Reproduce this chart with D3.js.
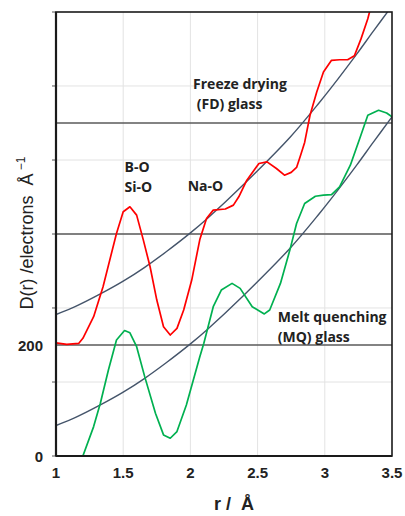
<!DOCTYPE html>
<html>
<head>
<meta charset="utf-8">
<script src="https://cdn.jsdelivr.net/npm/d3@7"></script>
<style>
  body { margin: 0; background: #fff; }
  svg { display: block; }
</style>
</head>
<body>
<svg id="chart" width="405" height="516"></svg>
<script>
// radial distribution, freeze drying (FD) glass, shifted up by 200
const rFD = [1.00, 1.08, 1.17, 1.20, 1.28, 1.35, 1.45, 1.50, 1.55, 1.60, 1.65, 1.70, 1.75, 1.80, 1.85, 1.90, 1.95, 2.01, 2.07, 2.12, 2.17, 2.26, 2.32, 2.36, 2.42, 2.51, 2.57, 2.64, 2.70, 2.75, 2.79, 2.82, 2.85, 2.89, 2.94, 2.99, 3.05, 3.11, 3.17, 3.22, 3.27, 3.32, 3.36, 3.40];
const dFD = [204, 201, 203, 212, 251, 305, 401, 440, 449, 434, 389, 341, 281, 233, 218, 230, 263, 317, 390, 428, 443, 445, 452, 467, 497, 527, 530, 518, 506, 511, 520, 542, 565, 614, 656, 692, 713, 714, 714, 721, 752, 788, 825, 870];

// melt quenching (MQ) glass
const rMQ = [1.00, 1.03, 1.08, 1.14, 1.20, 1.28, 1.33, 1.39, 1.45, 1.51, 1.55, 1.60, 1.66, 1.74, 1.80, 1.85, 1.90, 1.97, 2.07, 2.10, 2.17, 2.23, 2.31, 2.37, 2.46, 2.55, 2.59, 2.67, 2.74, 2.79, 2.85, 2.93, 2.99, 3.05, 3.11, 3.19, 3.26, 3.32, 3.40, 3.46, 3.50];
const dMQ = [4, -30, -70, -50, 0, 53, 95, 155, 209, 226, 222, 197, 143, 77, 38, 32, 44, 92, 179, 203, 269, 299, 311, 302, 269, 256, 263, 311, 371, 419, 455, 468, 470, 471, 485, 524, 572, 614, 623, 618, 611];

// average density curves 4*pi*r^2*rho
const rBase = [1.00, 1.15, 1.33, 1.50, 1.66, 1.82, 2.00, 2.13, 2.39, 2.74, 2.96, 3.10, 3.24, 3.36, 3.50];
const baseMQ = [55, 70, 92, 115, 140, 168, 202, 229, 288, 374, 437, 480, 525, 565, 611];
const baseFD = [255, 270, 292, 315, 340, 368, 402, 429, 488, 574, 637, 680, 725, 765, 811];

const zeroLines = [200, 400, 600];
const xTicks = [1, 1.5, 2, 2.5, 3, 3.5];
const yTickLabels = [0, 200];
const yGrid = [0, 133.3, 266.7, 400, 533.3, 666.7, 800];

const labels = [
  { r: 2.02, v: 661, lines: ['Freeze drying', ' (FD) glass'] },
  { r: 1.51, v: 511, lines: ['B-O', 'Si-O'] },
  { r: 1.98, v: 477, lines: ['Na-O'] },
  { r: 2.65, v: 241, lines: ['Melt quenching', '(MQ) glass'] }
];

const margin = { top: 12, right: 13, bottom: 60, left: 56 };
const width = 405 - margin.left - margin.right;
const height = 516 - margin.top - margin.bottom;

const svg = d3.select('#chart');
const g = svg.append('g').attr('transform', `translate(${margin.left},${margin.top})`);

const x = d3.scaleLinear().domain([1, 3.5]).range([0, width]);
const y = d3.scaleLinear().domain([0, 800]).range([height, 0]);

svg.append('defs').append('clipPath').attr('id', 'plot')
  .append('rect').attr('width', width).attr('height', height);

// light grid
g.selectAll('.vgrid').data(xTicks.slice(1, -1)).enter().append('line')
  .attr('x1', d => x(d)).attr('x2', d => x(d))
  .attr('y1', 0).attr('y2', height)
  .attr('stroke', '#e3e3e3').attr('stroke-width', 1);
g.selectAll('.hgrid').data(yGrid.slice(1, -1)).enter().append('line')
  .attr('x1', 0).attr('x2', width)
  .attr('y1', d => y(d)).attr('y2', d => y(d))
  .attr('stroke', '#e3e3e3').attr('stroke-width', 1);

// y ticks
g.selectAll('.ytick').data(yGrid).enter().append('line')
  .attr('x1', -4).attr('x2', 0)
  .attr('y1', d => y(d)).attr('y2', d => y(d))
  .attr('stroke', '#555').attr('stroke-width', 1);

// offset zero lines
g.selectAll('.zero').data(zeroLines).enter().append('line')
  .attr('x1', 0).attr('x2', width)
  .attr('y1', d => y(d)).attr('y2', d => y(d))
  .attr('stroke', '#5a5a5a').attr('stroke-width', 1.4);

const plot = g.append('g').attr('clip-path', 'url(#plot)');

const smooth = d3.line().x(d => x(d[0])).y(d => y(d[1])).curve(d3.curveCatmullRom);
const jagged = d3.line().x(d => x(d[0])).y(d => y(d[1]));

plot.append('path').datum(d3.zip(rBase, baseMQ))
  .attr('d', smooth).attr('fill', 'none').attr('stroke', '#44546a').attr('stroke-width', 1.4);
plot.append('path').datum(d3.zip(rBase, baseFD))
  .attr('d', smooth).attr('fill', 'none').attr('stroke', '#44546a').attr('stroke-width', 1.4);

plot.append('path').datum(d3.zip(rMQ, dMQ))
  .attr('d', jagged).attr('fill', 'none').attr('stroke', '#00b050').attr('stroke-width', 1.7)
  .attr('stroke-linejoin', 'round');
plot.append('path').datum(d3.zip(rFD, dFD))
  .attr('d', jagged).attr('fill', 'none').attr('stroke', '#ff0000').attr('stroke-width', 1.7)
  .attr('stroke-linejoin', 'round');

// frame
g.append('rect').attr('width', width).attr('height', height)
  .attr('fill', 'none').attr('stroke', '#1a1a1a').attr('stroke-width', 1.6);
g.append('line').attr('x1', 0).attr('x2', 0).attr('y1', 0).attr('y2', height)
  .attr('stroke', '#1a1a1a').attr('stroke-width', 2.2);
g.append('line').attr('x1', 0).attr('x2', width).attr('y1', height).attr('y2', height)
  .attr('stroke', '#1a1a1a').attr('stroke-width', 2.2);

// tick labels
g.selectAll('.xlab').data(xTicks).enter().append('text')
  .attr('x', d => x(d)).attr('y', height + 22)
  .attr('text-anchor', 'middle')
  .attr('font-family', 'Liberation Sans, Arial, sans-serif')
  .attr('font-size', 15).attr('font-weight', 'bold').attr('fill', '#222')
  .text(d => d);
g.selectAll('.ylab').data(yTickLabels).enter().append('text')
  .attr('x', -13).attr('y', d => y(d) + 6)
  .attr('text-anchor', 'end')
  .attr('font-family', 'Liberation Sans, Arial, sans-serif')
  .attr('font-size', 15).attr('font-weight', 'bold').attr('fill', '#222')
  .text(d => d);

// axis titles
svg.append('text')
  .attr('x', 234).attr('y', 510)
  .attr('text-anchor', 'middle')
  .attr('font-family', 'Liberation Sans, Arial, sans-serif')
  .attr('font-size', 18).attr('font-weight', 'bold').attr('fill', '#222')
  .attr('xml:space', 'preserve')
  .text('r /  Å');

const yt = svg.append('text')
  .attr('transform', 'translate(33,233) rotate(-90)')
  .attr('text-anchor', 'middle')
  .attr('font-family', 'Liberation Sans, Arial, sans-serif')
  .attr('font-size', 18).attr('fill', '#222')
  .attr('xml:space', 'preserve');
yt.append('tspan').text('D(r) /electrons  Å');
yt.append('tspan').attr('dy', -8).attr('font-size', 12).text(' −1');

// annotations
labels.forEach(l => {
  const t = g.append('text')
    .attr('x', x(l.r)).attr('y', y(l.v))
    .attr('font-family', 'Open Sans, sans-serif')
    .attr('font-size', 14).attr('font-weight', 'bold').attr('fill', '#222')
    .attr('xml:space', 'preserve');
  l.lines.forEach((s, i) => {
    t.append('tspan').attr('x', x(l.r)).attr('dy', i === 0 ? 0 : 20).text(s);
  });
});
</script>
</body>
</html>
